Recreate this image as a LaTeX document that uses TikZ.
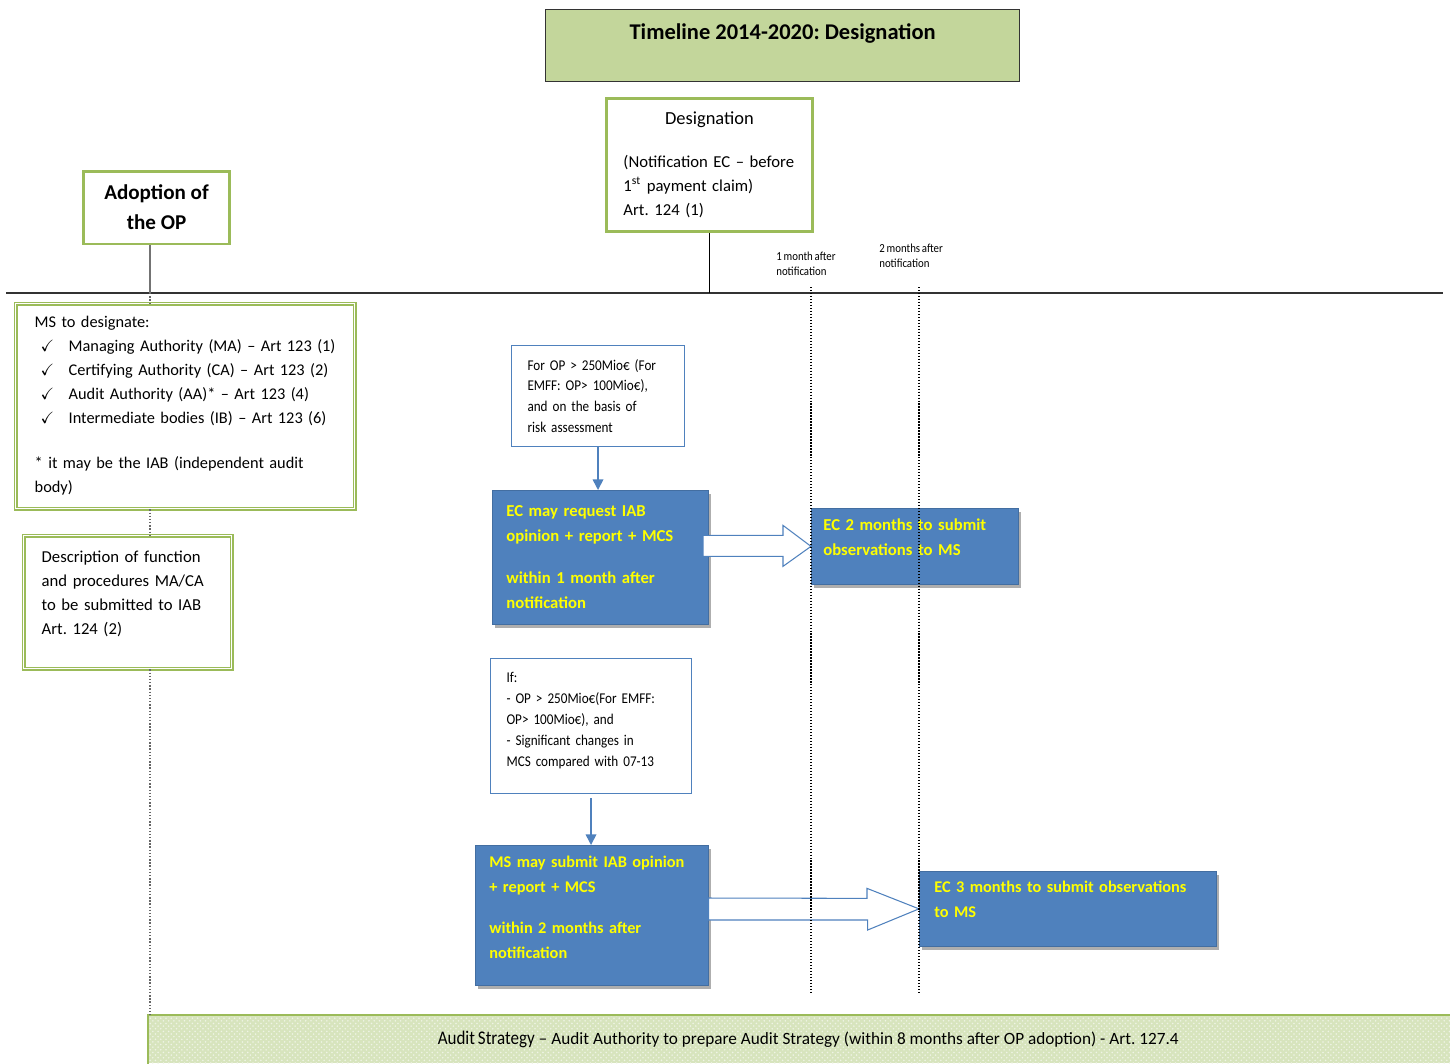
\documentclass[tikz,border=0pt]{standalone}
\usepackage{fontspec}
\setmainfont{Carlito}
\newfontfamily\narrowfont[FakeStretch=0.88,WordSpace=0.75]{Carlito}
\usepackage{amssymb}
\usetikzlibrary{positioning,shadows,arrows.meta,calc,patterns}
\definecolor{olivegreen}{HTML}{9BBB59}
\definecolor{lightolive}{HTML}{C3D69B}
\definecolor{paleolive}{HTML}{D7E4BD}
\definecolor{accentblue}{HTML}{4F81BD}
\definecolor{textyellow}{HTML}{FFFF00}
\newcommand{\tickitem}{\hspace*{0.12cm}\makebox[0.56cm][l]{$\checkmark$}}

\begin{document}
\frenchspacing
\begin{tikzpicture}[x=0.02cm,y=-0.02cm,
greenbox/.style={draw=olivegreen, line width=1.7pt, fill=white, inner sep=0pt},
dblbox/.style={draw=olivegreen, line width=0.8pt, double=white, double distance=0.8pt,
    anchor=north west, align=left, font=\fontsize{9.3}{13.6}\selectfont},
notebox/.style={draw=accentblue, line width=0.6pt, fill=white, anchor=north west, align=left,
    inner ysep=0pt, font=\narrowfont\fontsize{8.5}{11.9}\selectfont},
bluebox/.style={fill=accentblue, draw=accentblue!85!black, line width=0.4pt, anchor=north west,
    align=left, inner ysep=0pt, text=textyellow, font=\bfseries\fontsize{9.5}{14.2}\selectfont,
    drop shadow={shadow xshift=0.06cm, shadow yshift=-0.08cm, fill=black!45, opacity=0.7}},
monthlabel/.style={anchor=north west, align=left, inner sep=0pt, font=\narrowfont\fontsize{7}{8.5}\selectfont},
spine/.style={draw=black!60, densely dotted, line width=0.8pt},
month/.style={densely dotted, line width=0.7pt},
blockarrow/.style={draw=accentblue, line width=0.6pt, fill=white, line join=miter},
flow/.style={draw=accentblue, line width=0.9pt, -{Triangle[width=6pt,length=6pt]}}]
\useasboundingbox (0,0) rectangle (1450,1063);

\node[fill=lightolive, draw=black!80, line width=0.8pt, anchor=north west, inner sep=0pt,
  minimum width=9.48cm, text height=0.60cm, text depth=0.84cm,
  font=\bfseries\fontsize{12.8}{14}\selectfont] (title) at (545,9) {Timeline 2014-2020: Designation};

\node[greenbox, anchor=north west, minimum width=4.12cm, minimum height=2.66cm, text width=3.44cm,
  inner xsep=0.34cm, align=left, font=\fontsize{9.5}{13.6}\selectfont] (desig) at (605,97)
  {\makebox[3.44cm]{\fontsize{10.5}{13.6}\selectfont Designation}\\[10.8pt]
   (Notification EC -- before\\1\textsuperscript{st} payment claim)\\Art. 124 (1)};

\node[greenbox, align=center, minimum width=2.94cm, minimum height=1.46cm,
  font=\bfseries\fontsize{12}{17}\selectfont] (adopt) at (156.5,207.5) {Adoption of\\the OP};

\coordinate (tlw) at (6,293);
\coordinate (tle) at (1443,293);
\coordinate (spinetop) at (150,293);

\node[dblbox, minimum width=6.78cm, minimum height=4.10cm, text width=6.02cm, inner xsep=0.38cm,
  inner ysep=0pt] (ms) at (15,303)
  {\mbox{}\\[-8pt]MS to designate:\\
   \tickitem Managing Authority (MA) -- Art 123 (1)\\
   \tickitem Certifying Authority (CA) -- Art 123 (2)\\
   \tickitem Audit Authority (AA)* -- Art 123 (4)\\
   \tickitem Intermediate bodies (IB) -- Art 123 (6)\\[12pt]
   * it may be the IAB (independent audit\\
   body)};

\node[dblbox, minimum width=4.16cm, minimum height=2.66cm, text width=3.44cm, inner xsep=0.36cm,
  inner ysep=0pt, font=\fontsize{9.5}{13.6}\selectfont] (desc) at (23,535)
  {Description of function\\and procedures MA/CA\\to be submitted to IAB\\Art. 124 (2)\\[-3pt]\mbox{}};

\node[notebox, minimum width=3.46cm, minimum height=2.02cm, text width=2.82cm, inner xsep=0.32cm]
  (note1) at (511,345) {For OP > 250Mio€ (For\\EMFF: OP> 100Mio€),\\and on the basis of\\risk assessment};

\node[bluebox, minimum width=4.32cm, minimum height=2.68cm, text width=3.76cm, inner xsep=0.28cm]
  (ecreq) at (492,490) {EC may request IAB\\opinion + report + MCS\\[9.6pt]within 1 month after\\notification};

\node[bluebox, minimum width=4.14cm, minimum height=1.52cm, text width=3.66cm, inner xsep=0.24cm]
  (ecmon) at (811,508) {EC 2 months to submit\\observations to MS\\[-4pt]\mbox{}};

\node[notebox, minimum width=4.02cm, minimum height=2.70cm, text width=3.38cm, inner xsep=0.32cm]
  (note2) at (490,658) {If:\\- OP > 250Mio€(For EMFF:\\OP> 100Mio€), and\\- Significant changes in\\MCS compared with 07-13\\[-4pt]\mbox{}};

\node[bluebox, minimum width=4.66cm, minimum height=2.80cm, text width=4.10cm, inner xsep=0.28cm,
  font=\bfseries\fontsize{9.3}{14.2}\selectfont]
  (msub) at (475,845) {MS may submit IAB opinion\\+ report + MCS\\[9.5pt]within 2 months after\\notification\\[-5pt]\mbox{}};

\node[bluebox, minimum width=5.94cm, minimum height=1.50cm, text width=5.34cm, inner xsep=0.30cm,
  font=\bfseries\fontsize{9.3}{14.2}\selectfont]
  (ecthree) at (919,871) {EC 3 months to submit observations\\to MS\\[-3.4pt]\mbox{}};

\node[fill=paleolive, postaction={pattern=crosshatch dots, pattern color=white!60!paleolive},
  anchor=north west, inner sep=0pt, minimum width=26.04cm, minimum height=0.96cm] (audit) at (148,1015)
  {\hspace*{0.36cm}{\narrowfont\fontsize{11}{12}\selectfont Audit Strategy} --
   {\fontsize{9.8}{11}\selectfont Audit Authority to prepare Audit Strategy (within 8 months after OP adoption) - Art. 127.4}};
\draw[olivegreen, line width=1.5pt] (audit.south west) -- (audit.north west) -- (audit.north east);

\node[monthlabel] (m1lab) at (776,252) {1 month after\\notification};
\node[monthlabel] (m2lab) at (879,244) {2 months after\\notification};
\coordinate (m1top) at (811,287);
\coordinate (m1bot) at (811,993);
\coordinate (m2top) at (919,287);
\coordinate (m2bot) at (919,993);

\draw[line width=0.8pt, black!80] (tlw) -- (tle);
\draw[line width=1.1pt] (desig.south) -- (desig.south |- tlw);
\draw[line width=1.3pt, black!55] (adopt.south -| spinetop) -- (spinetop);
\draw[spine] (spinetop) -- (ms.north -| spinetop);
\draw[spine] (ms.south -| spinetop) -- (desc.north -| spinetop);
\draw[spine] (desc.south -| spinetop) -- (audit.north -| spinetop);

\draw[flow] (note1.south) -- (note1.south |- ecreq.north);
\draw[flow, shorten <=0.08cm] (note2.south) -- (note2.south |- msub.north);

\draw[blockarrow] (ecmon.west) -- ++(-28,-21) -- ++(0,10) -- ++(-80,0) -- ++(0,21)
  -- ++(80,0) -- ++(0,10) -- cycle;
\draw[blockarrow] (ecthree.west) -- ++(-52,-20.5) -- ++(0,10) -- (msub.east |- 0,898)
  -- (msub.east |- 0,920) -- ++(159,0) -- ++(0,10) -- cycle;

\draw[month] (m1top) -- (m1bot);
\draw[month] (m2top) -- (m2bot);
\end{tikzpicture}
\end{document}
